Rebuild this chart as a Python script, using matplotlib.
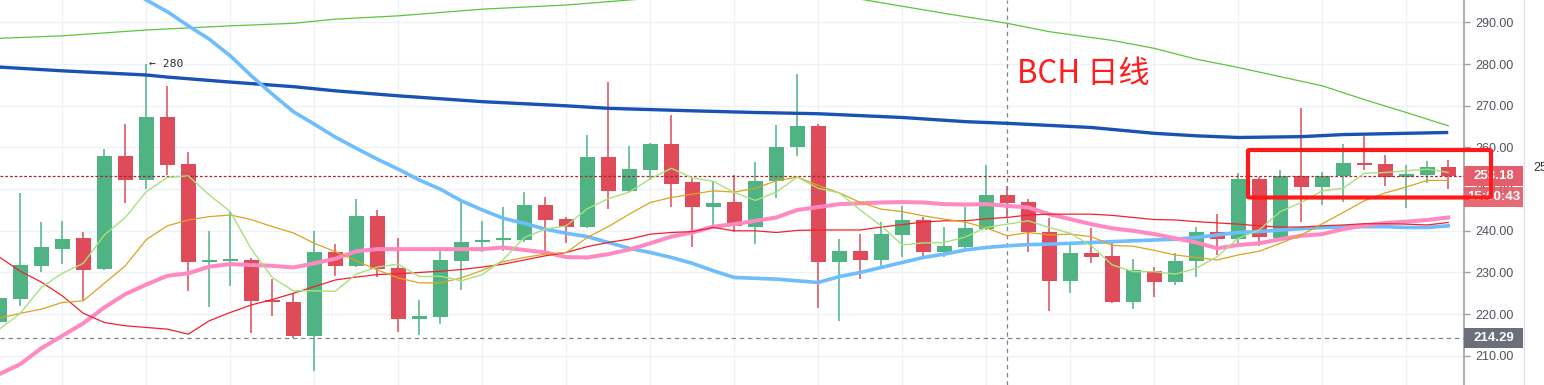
import matplotlib
matplotlib.use("Agg")
import matplotlib.pyplot as plt
from matplotlib.patches import Rectangle, FancyBboxPatch
from matplotlib.lines import Line2D
from matplotlib.ticker import FormatStrFormatter
import numpy as np

# ---------------- data ----------------
opens = [218.2, 223.7, 231.6, 235.6, 238.3, 230.8, 258.0, 252.2, 267.3, 256.0,
         232.4, 232.8, 233.0, 223.4, 222.9, 214.8, 234.9, 231.6, 243.6, 231.0,
         218.9, 219.2, 232.8, 237.2, 237.8, 237.8, 246.2, 242.8, 240.9, 257.7,
         249.6, 254.6, 260.8, 251.7, 245.6, 246.9, 241.0, 251.9, 260.0, 265.2,
         232.6, 235.2, 233.1, 239.1, 242.5, 235.0, 236.1, 240.4, 248.6, 246.8,
         239.7, 228.0, 234.7, 234.0, 222.8, 230.4, 227.8, 232.8, 239.6, 238.0,
         252.4, 238.3, 253.2, 250.6, 253.2, 256.3, 256.0, 253.0, 253.4, 255.3]
highs = [224.5, 249.0, 242.0, 242.3, 239.7, 259.6, 265.6, 280.0, 274.8, 258.9,
         240.0, 244.7, 233.4, 228.4, 225.0, 239.9, 236.8, 247.6, 244.9, 238.3,
         223.4, 236.0, 246.8, 242.4, 245.8, 249.2, 248.0, 243.3, 262.9, 275.6,
         260.3, 261.1, 267.8, 252.6, 252.0, 253.3, 256.5, 265.3, 277.6, 265.6,
         238.0, 239.3, 242.0, 246.0, 243.4, 240.9, 245.8, 255.7, 250.8, 247.7,
         243.0, 236.8, 240.6, 237.0, 233.2, 231.2, 234.6, 241.0, 244.0, 253.8,
         252.8, 254.6, 269.5, 254.0, 260.8, 262.8, 258.2, 255.8, 256.8, 257.0]
lows = [216.5, 222.0, 230.0, 232.0, 223.4, 230.6, 246.7, 250.0, 253.4, 225.5,
        221.6, 226.8, 215.4, 219.6, 214.2, 206.4, 229.2, 231.4, 229.0, 215.7,
        215.1, 217.6, 225.7, 234.8, 235.2, 237.4, 235.2, 237.0, 240.7, 245.2,
        249.4, 252.1, 245.8, 236.0, 241.4, 239.8, 236.9, 247.8, 258.0, 221.4,
        218.4, 228.4, 231.6, 233.8, 233.6, 233.6, 235.6, 240.2, 243.4, 234.8,
        220.8, 225.0, 232.2, 222.6, 221.2, 224.0, 227.1, 229.0, 234.2, 236.2,
        236.4, 238.1, 242.1, 246.3, 247.0, 254.6, 250.8, 245.4, 251.4, 250.0]
closes = [223.9, 231.8, 236.1, 238.0, 230.6, 258.0, 252.2, 267.3, 255.9, 232.6,
          233.0, 233.2, 223.2, 222.8, 214.8, 234.9, 231.6, 243.6, 230.9, 218.9,
          219.6, 233.0, 237.3, 237.8, 238.3, 246.2, 242.6, 240.9, 257.7, 249.6,
          254.8, 260.8, 251.2, 245.6, 246.7, 241.2, 251.9, 260.1, 265.2, 232.6,
          235.2, 233.1, 239.2, 242.5, 235.0, 236.3, 240.6, 248.6, 246.6, 239.6,
          228.0, 234.7, 233.8, 222.8, 230.6, 227.8, 232.8, 239.7, 238.0, 252.4,
          238.6, 253.2, 250.6, 253.2, 256.3, 255.8, 253.0, 253.6, 255.2, 253.18]

ma_short = [216.4, 220.2, 226.4, 229.8, 232.2, 239.0, 243.2, 249.4, 252.8, 253.2,
            248.6, 244.6, 235.6, 228.8, 225.6, 225.6, 225.5, 229.6, 231.3, 232.0,
            229.0, 229.1, 228.0, 229.5, 233.1, 238.4, 240.4, 241.2, 245.3, 247.7,
            249.3, 252.5, 255.0, 252.7, 251.9, 249.2, 247.3, 249.3, 252.9, 250.2,
            249.1, 245.0, 241.2, 236.6, 237.1, 237.2, 238.5, 240.8, 241.6, 242.4,
            240.8, 239.4, 236.4, 231.8, 230.2, 230.2, 229.6, 231.0, 233.8, 238.2,
            240.2, 244.6, 246.8, 249.6, 250.2, 253.8, 254.0, 254.4, 254.8, 254.0]
ma_mid = [219.0, 220.2, 221.2, 222.8, 223.2, 227.4, 231.6, 237.9, 241.2, 242.6,
          243.4, 243.8, 242.7, 241.0, 239.5, 237.0, 235.0, 232.8, 230.6, 228.7,
          227.5, 227.5, 228.7, 230.5, 232.6, 233.6, 234.4, 234.8, 238.4, 241.0,
          244.0, 246.8, 248.0, 248.8, 249.6, 249.3, 250.2, 252.0, 252.9, 250.9,
          249.1, 246.8, 245.2, 244.6, 243.6, 242.8, 242.1, 240.7, 238.8, 239.6,
          239.0, 239.2, 238.6, 236.5, 236.3, 235.3, 234.2, 233.6, 233.0, 234.2,
          235.1, 237.0, 239.0, 241.7, 244.4, 247.2, 249.1, 250.5, 252.1, 252.1]
ma_red = [233.7, 230.3, 227.7, 224.4, 220.2, 218.0, 217.2, 216.8, 216.4, 215.2,
          218.4, 220.4, 222.2, 223.5, 225.0, 226.6, 228.2, 228.9, 229.5, 229.7,
          230.0, 230.3, 230.7, 231.3, 232.0, 233.0, 234.0, 234.8, 236.2, 237.2,
          238.0, 239.2, 239.6, 239.8, 240.8, 240.0, 240.0, 239.6, 240.1, 240.2,
          240.2, 240.2, 240.9, 241.5, 242.1, 242.4, 242.4, 242.9, 243.2, 243.8,
          244.0, 244.0, 244.0, 243.7, 243.2, 242.7, 242.6, 242.2, 241.9, 241.6,
          241.2, 240.9, 240.9, 241.2, 241.4, 241.7, 241.7, 241.6, 241.4, 242.0]
ma_pink = [205.6, 208.0, 211.8, 214.8, 217.8, 221.6, 224.8, 227.1, 229.2, 229.8,
           231.4, 232.0, 231.8, 231.6, 231.2, 232.2, 233.3, 235.1, 235.6, 235.6,
           235.6, 235.6, 235.6, 235.6, 236.0, 235.4, 234.8, 233.7, 233.6, 234.4,
           235.5, 237.0, 238.6, 239.6, 241.0, 241.6, 242.4, 243.2, 245.0, 245.7,
           246.4, 246.6, 246.8, 246.9, 246.8, 246.4, 246.3, 246.4, 246.0, 245.6,
           244.0, 242.8, 241.6, 240.6, 240.0, 239.2, 238.2, 237.2, 235.8, 236.6,
           237.0, 238.0, 238.8, 239.2, 240.4, 241.3, 241.9, 242.2, 242.6, 243.2]

lblue_x = list(range(5, 70))
lblue_y = [302.0, 298.8, 295.4, 292.6, 289.2, 286.0, 282.0, 277.2, 272.8, 268.6,
           265.6, 262.5, 259.8, 257.2, 254.8, 252.2, 250.0, 247.2, 245.0, 243.0,
           241.8, 240.4, 239.4, 238.6, 237.2, 235.8, 234.8, 233.6, 232.2, 230.4,
           228.8, 228.6, 228.4, 228.0, 227.6, 229.0, 230.0, 231.2, 232.4, 233.6,
           234.4, 235.4, 236.0, 236.4, 236.7, 236.8, 237.0, 237.2, 237.4, 237.6,
           237.8, 238.0, 238.4, 239.0, 239.6, 239.8, 240.2, 240.5, 240.8, 240.9,
           241.0, 241.0, 240.8, 240.8, 241.2]

dblue_x = [0, 3, 7, 8, 11, 14, 16, 19, 23, 27, 29, 33, 36, 39, 43, 46, 48, 52,
           55, 57, 59, 62, 64, 69]
dblue_y = [279.3, 278.4, 277.4, 276.9, 275.7, 274.6, 273.6, 272.4, 271.0, 270.0,
           269.4, 268.8, 268.4, 268.1, 267.2, 266.2, 265.8, 264.8, 263.4, 262.8,
           262.4, 262.6, 263.1, 263.6]

green_x = [0, 3, 7, 11, 14, 16, 19, 23, 27, 30, 33, 37, 41, 45, 48, 50, 53, 55,
           57, 59, 61, 63, 65, 67, 69]
green_y = [286.2, 286.8, 288.2, 289.2, 289.8, 290.8, 291.6, 293.2, 294.2, 295.4,
           296.5, 297.0, 295.6, 292.2, 289.8, 287.8, 285.7, 283.8, 281.2, 279.2,
           277.0, 274.8, 271.5, 268.4, 265.2]

y_ticks = [210, 220, 230, 240, 250, 260, 270, 280, 290]
grid_x = list(range(3, 70, 4))
last_price = 253.18
cross_price = 214.29
cross_x = 47.97
peak_label = "280"
title = "BCH 日线"
countdown = "15:00:43"

# ---------------- figure ----------------
W, H = 1544, 385
fig = plt.figure(figsize=(W / 100, H / 100), dpi=100)
fig.patch.set_facecolor("white")
ax = fig.add_axes([0, 0, 1464 / W, 1])

def fx(x):
    return x / W

def fy(y):
    return 1 - y / H

idx = np.arange(len(opens))
o = np.array(opens); c = np.array(closes)
hi = np.array(highs); lo = np.array(lows)
up = c >= o
GREEN, RED = "#50b384", "#e04b59"
cols = [GREEN if u else RED for u in up]
bottom = np.minimum(o, c)
height = np.maximum(np.abs(c - o), 0.4)

ax.vlines(idx, lo, hi, colors=cols, linewidth=1.1, zorder=3)
ax.bar(idx, height, bottom=bottom, width=0.71, color=cols, linewidth=0, zorder=3.5)

# moving averages
ax.plot(green_x, green_y, color="#5cc53c", lw=0.9, zorder=5)
ax.plot(dblue_x, dblue_y, color="#1a52b3", lw=2.4, zorder=5, solid_capstyle="butt")
ax.plot(lblue_x, lblue_y, color="#6ebdfc", lw=2.6, zorder=5)
ax.plot(idx, ma_pink, color="#ff8ac2", lw=2.9, zorder=5)
ax.plot(idx, ma_red, color="#f0222c", lw=0.9, zorder=6)
ax.plot(idx, ma_mid, color="#d9a520", lw=0.9, zorder=6)
ax.plot(idx, ma_short, color="#a6e27c", lw=1.0, zorder=6)

# price / crosshair lines
ax.axhline(last_price, color="#a8282e", lw=0.9, ls=(0, (2.2, 1.6)), zorder=4)
ax.axhline(cross_price, color="#758696", lw=0.9, ls=(0, (3.5, 3)), zorder=4)
ax.axvline(cross_x, color="#758696", lw=0.9, ls=(0, (3.5, 3)), zorder=4)

# peak annotation
ax.annotate("\u2190 " + peak_label, xy=(7, highs[7]), xytext=(2.2, 0),
            textcoords="offset points", va="center", ha="left",
            fontsize=8.2, family="DejaVu Sans Mono", color="#2a2e39", zorder=7)

# axes style
ax.set_xlim(0.033, 69.75)
ax.set_ylim(202.99, 295.4)
ax.set_yticks(y_ticks)
ax.yaxis.set_major_formatter(FormatStrFormatter("%.2f"))
ax.yaxis.tick_right()
ax.set_xticks(grid_x)
ax.set_xticklabels([])
ax.tick_params(axis="x", length=0)
ax.tick_params(axis="y", length=4, width=1, color="#9ca0a8", pad=4.5,
               labelsize=9, labelcolor="#50535e")
for lab in ax.get_yticklabels():
    lab.set_family("Liberation Sans")
ax.grid(True, color="#eef1f6", lw=1.0, zorder=0)
ax.set_axisbelow(True)
for s in ["left", "top", "bottom"]:
    ax.spines[s].set_visible(False)
ax.spines["right"].set_color("#9ca0a8")
ax.spines["right"].set_linewidth(1.2)

# right panel separator and cut-off label
fig.add_artist(Line2D([fx(1524), fx(1524)], [0, 1], color="#dfe2e8", lw=1.0))
fig.text(fx(1533), fy(168), "25", ha="left", va="center", fontsize=9,
         family="Liberation Sans", color="#333333")

# price label boxes
def label_box(y0, y1, color, text, alpha=1.0):
    fig.add_artist(Rectangle((fx(1464), fy(y1)), (1523 - 1464) / W, (y1 - y0) / H,
                             transform=fig.transFigure, facecolor=color,
                             edgecolor="none", alpha=alpha, zorder=10))
    fig.text(fx(1493.5), fy((y0 + y1) / 2), text, ha="center", va="center",
             fontsize=9.5, fontweight="bold", family="Liberation Sans",
             color="white", zorder=11)

label_box(166, 186, "#e35d6a", f"{last_price:.2f}")
label_box(187, 207, "#e35d6a", countdown, alpha=0.92)
label_box(328, 347.5, "#6b6f79", f"{cross_price:.2f}")

# title text
fig.text(fx(1017), fy(83), title, ha="left", va="baseline", fontsize=22.5,
         family=["Noto Sans CJK SC", "DejaVu Sans"], color="#ff1d1d", zorder=12)

# highlight rectangle
fig.add_artist(FancyBboxPatch((fx(1248), fy(197.5)), (1491 - 1248) / W, (197.5 - 150) / H,
                              boxstyle="round,pad=0,rounding_size=0.002",
                              transform=fig.transFigure, facecolor="none",
                              edgecolor="#ff1a1a", lw=3.0, zorder=13))

fig.savefig("out.png", dpi=100)
